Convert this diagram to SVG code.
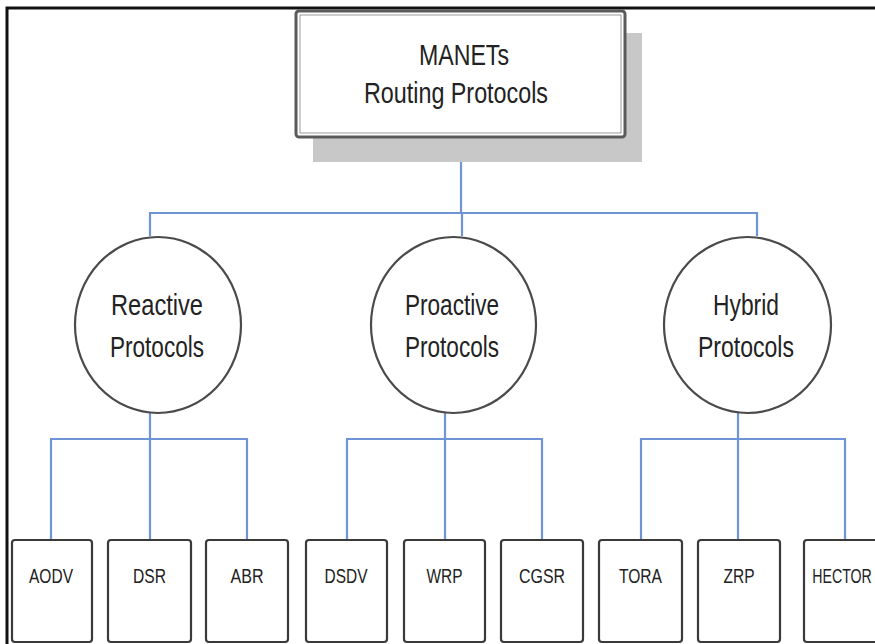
<svg xmlns="http://www.w3.org/2000/svg" width="875" height="644" viewBox="0 0 875 644">
<style>
.t{font-family:"Liberation Sans",Arial,sans-serif;fill:#222;text-anchor:middle}
.big{font-size:30px}
.sm{font-size:20px}
.c{fill:#fff;stroke:#4a4a4a;stroke-width:2.2}
.b{fill:#fff;stroke:#3a3a3a;stroke-width:2.2}
.ln{fill:none;stroke:#6f94d6;stroke-width:2.2}
</style>
<rect x="0" y="0" width="875" height="644" fill="#fff"/>
<path d="M7 644 V8 H875" fill="none" stroke="#111" stroke-width="3"/>
<g id="connectors">
<path class="ln" d="M461 137 V213 M150 236 V213 H757 V236 M462 213 V236"/>
<path class="ln" d="M150 413 V540 M51 540 V439 H247 V540"/>
<path class="ln" d="M445 413 V540 M347 540 V439 H542 V540"/>
<path class="ln" d="M738 413 V540 M641 540 V439 H845 V540"/>
</g>
<g id="root">
<rect x="313" y="33" width="329" height="129" fill="#c8c8c8"/>
<rect x="296" y="11" width="329" height="126" rx="3" fill="#fff" stroke="#5a5a5a" stroke-width="3"/>
<rect x="300" y="15" width="321" height="118" fill="none" stroke="#999" stroke-width="1"/>
<text class="t big" x="464" y="65" textLength="90" lengthAdjust="spacingAndGlyphs">MANETs</text>
<text class="t big" x="456" y="103" textLength="184" lengthAdjust="spacingAndGlyphs">Routing Protocols</text>
</g>
<g id="reactive">
<ellipse class="c" cx="158" cy="325" rx="83" ry="88"/>
<text class="t big" x="157" y="315" textLength="92" lengthAdjust="spacingAndGlyphs">Reactive</text>
<text class="t big" x="157" y="357" textLength="94" lengthAdjust="spacingAndGlyphs">Protocols</text>
</g>
<g id="proactive">
<ellipse class="c" cx="453.5" cy="325" rx="82.5" ry="88"/>
<text class="t big" x="452" y="315" textLength="94" lengthAdjust="spacingAndGlyphs">Proactive</text>
<text class="t big" x="452" y="357" textLength="94" lengthAdjust="spacingAndGlyphs">Protocols</text>
</g>
<g id="hybrid">
<ellipse class="c" cx="747.5" cy="325" rx="83.5" ry="88"/>
<text class="t big" x="746" y="315" textLength="66" lengthAdjust="spacingAndGlyphs">Hybrid</text>
<text class="t big" x="746" y="357" textLength="96" lengthAdjust="spacingAndGlyphs">Protocols</text>
</g>
<g id="aodv"><rect class="b" x="12" y="540" width="80" height="102" rx="3"/><text class="t sm" x="51" y="583" textLength="44" lengthAdjust="spacingAndGlyphs">AODV</text></g>
<g id="dsr"><rect class="b" x="108" y="540" width="83" height="102" rx="3"/><text class="t sm" x="149.5" y="583" textLength="33" lengthAdjust="spacingAndGlyphs">DSR</text></g>
<g id="abr"><rect class="b" x="206" y="540" width="82" height="102" rx="3"/><text class="t sm" x="247" y="583" textLength="33" lengthAdjust="spacingAndGlyphs">ABR</text></g>
<g id="dsdv"><rect class="b" x="306" y="540" width="81" height="102" rx="3"/><text class="t sm" x="346" y="583" textLength="43" lengthAdjust="spacingAndGlyphs">DSDV</text></g>
<g id="wrp"><rect class="b" x="404" y="540" width="81" height="102" rx="3"/><text class="t sm" x="444.5" y="583" textLength="36" lengthAdjust="spacingAndGlyphs">WRP</text></g>
<g id="cgsr"><rect class="b" x="501" y="540" width="82" height="102" rx="3"/><text class="t sm" x="542" y="583" textLength="46" lengthAdjust="spacingAndGlyphs">CGSR</text></g>
<g id="tora"><rect class="b" x="599" y="540" width="83" height="102" rx="3"/><text class="t sm" x="640.5" y="583" textLength="43" lengthAdjust="spacingAndGlyphs">TORA</text></g>
<g id="zrp"><rect class="b" x="698" y="540" width="82" height="102" rx="3"/><text class="t sm" x="739" y="583" textLength="31" lengthAdjust="spacingAndGlyphs">ZRP</text></g>
<g id="hector"><rect class="b" x="804" y="540" width="82" height="102" rx="3"/><text class="t sm" transform="translate(842 583) scale(0.71 1)">HECTOR</text></g>
</svg>
